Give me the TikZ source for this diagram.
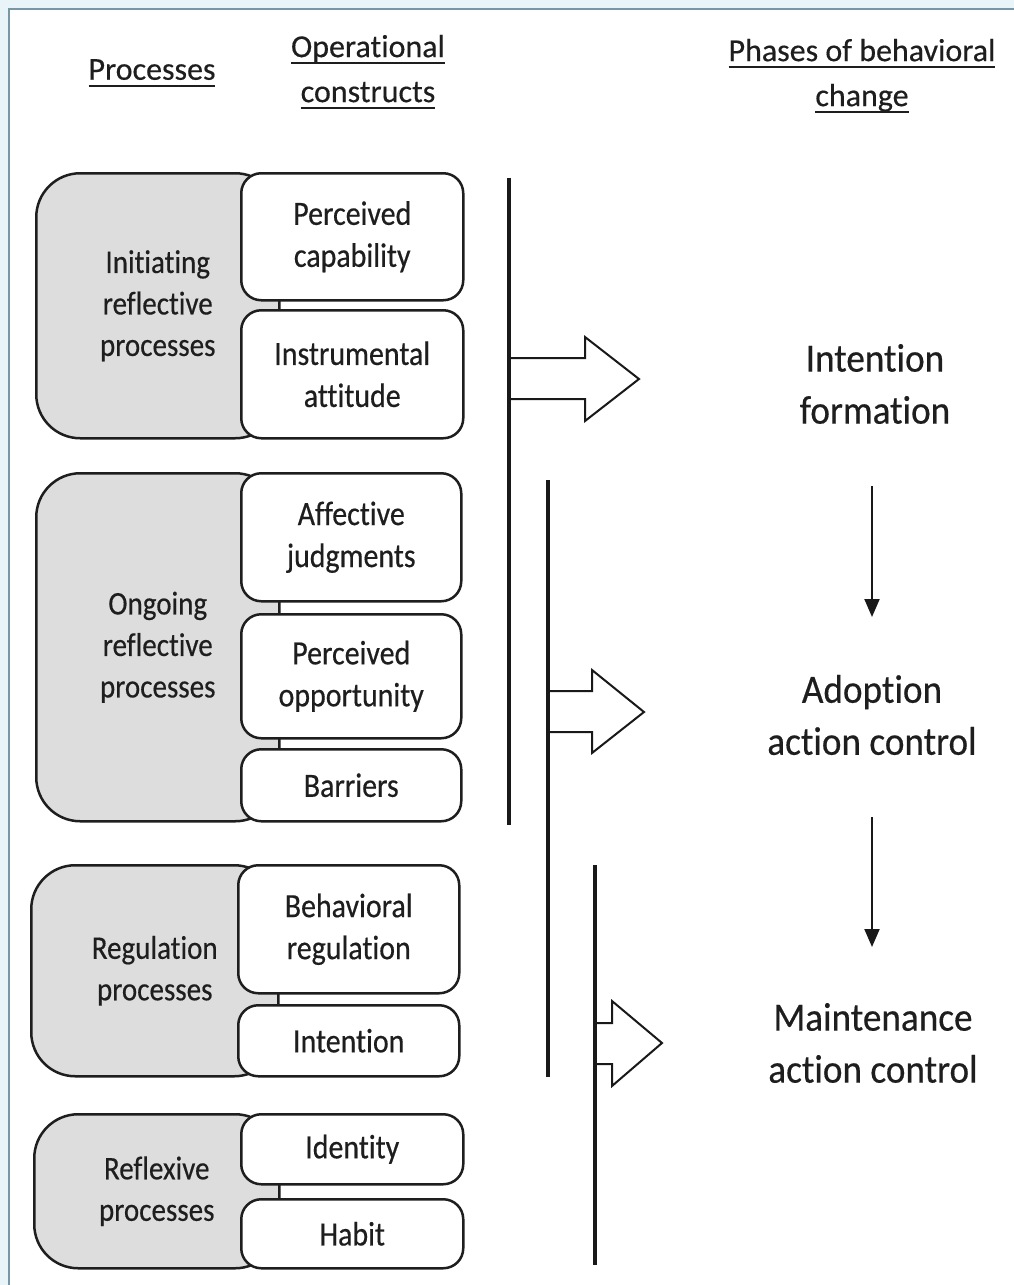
\documentclass[tikz,border=0pt]{standalone}
\usepackage{fontspec}
\setmainfont{Carlito}[Ligatures={NoCommon}]
\newfontfamily\cfontfam{Carlito}[FakeStretch=0.88,Ligatures={NoCommon},FakeBold=0.4]
\newfontfamily\pfontfam{Carlito}[FakeStretch=0.93,Ligatures={NoCommon},FakeBold=0.4]
\newfontfamily\hfontfam{Carlito}[Ligatures={NoCommon},FakeBold=0.4]
\usetikzlibrary{arrows.meta}
\definecolor{framecol}{RGB}{120,150,165}
\definecolor{outside}{RGB}{232,244,248}
\definecolor{greyfill}{RGB}{221,221,221}
\definecolor{boxdraw}{RGB}{30,30,30}
\definecolor{txt}{RGB}{30,30,30}
\newcommand\hdul[1]{\setbox0\hbox{#1}\rlap{\raisebox{-0.22em}{\rule{\wd0}{2.2pt}}}\box0}
\tikzset{
  grp/.style={draw=boxdraw, fill=greyfill, rounded corners=44pt, line width=2.5pt,
    anchor=north west, inner sep=0pt, align=center, text=txt,
    font=\cfontfam\fontsize{33}{41.5}\selectfont},
  cbox/.style={draw=boxdraw, fill=white, rounded corners=20pt, line width=2.5pt,
    anchor=north west, inner sep=0pt, align=center, text=txt,
    font=\cfontfam\fontsize{34}{42}\selectfont},
  hdr/.style={align=center, inner sep=0pt, text=txt, font=\hfontfam\fontsize{32}{45}\selectfont},
  phase/.style={align=center, inner sep=0pt, text=txt, font=\pfontfam\fontsize{40}{52}\selectfont},
  bar/.style={line width=3.5pt, draw=black!90},
  blockarrow/.style={draw=black!90, fill=white, line width=2pt, line join=miter},
  downarrow/.style={line width=2pt, draw=black!90, -{Triangle[length=18pt,width=15pt]}},
}
\begin{document}
\begin{tikzpicture}[x=1pt,y=-1pt]
\useasboundingbox (0,0) rectangle (1014,1285);
\fill[white] (0,0) rectangle (1014,1285);
\fill[outside] (0,0) rectangle (1014,9);
\fill[outside] (0,0) rectangle (9,1285);
\draw[framecol, line width=2pt] (9,1285) -- (9,9) -- (1014,9);

% headers
\node[hdr] (hp) at (152,73) {\hdul{Processes}};
\node[hdr] (ho) at (368,72) {\hdul{Operational}\\\hdul{constructs}};
\node[hdr] (hph) at (862,76) {\hdul{Phases of behavioral}\\\hdul{change}};

% group 1
\node[grp, minimum width=243pt, minimum height=265pt] (g1) at (35,172) {Initiating\\reflective\\processes};
\node[cbox, minimum width=222pt, minimum height=127pt] (c11) at (240,172) {Perceived\\capability};
\node[cbox, minimum width=222pt, minimum height=128pt] (c12) at (240,309) {Instrumental\\attitude};

% group 2
\node[grp, minimum width=243pt, minimum height=348pt] (g2) at (35,472) {Ongoing\\reflective\\processes};
\node[cbox, minimum width=220pt, minimum height=128pt] (c21) at (240,472) {Affective\\judgments};
\node[cbox, minimum width=220pt, minimum height=124pt] (c22) at (240,613) {Perceived\\opportunity};
\node[cbox, minimum width=220pt, minimum height=72pt] (c23) at (240,748) {Barriers};

% group 3
\node[grp, minimum width=247pt, minimum height=211pt] (g3) at (30,864) {Regulation\\processes};
\node[cbox, minimum width=221pt, minimum height=128pt] (c31) at (237,864) {Behavioral\\regulation};
\node[cbox, minimum width=221pt, minimum height=71pt] (c32) at (237,1004) {Intention};

% group 4
\node[grp, minimum width=245pt, minimum height=154pt] (g4) at (33,1113) {Reflexive\\processes};
\node[cbox, minimum width=222pt, minimum height=70pt] (c41) at (240,1113) {Identity};
\node[cbox, minimum width=222pt, minimum height=69pt] (c42) at (240,1198) {Habit};

% phases
\node[phase] (pif) at (875,384) {Intention\\formation};
\node[phase] (pad) at (872,715) {Adoption\\action control};
\node[phase] (pma) at (873,1043) {Maintenance\\action control};

% bars
\coordinate (b1t) at (509,178);
\coordinate (b1b) at (509,825);
\coordinate (b2t) at (548,480);
\coordinate (b2b) at (548,1077);
\coordinate (b3t) at (595,865);
\coordinate (b3b) at (595,1265);

% block arrows
\draw[blockarrow] (509,358) -- (585,358) -- (585,337) -- (639,379) -- (585,421) -- (585,399) -- (509,399);
\draw[blockarrow] (548,691) -- (592,691) -- (592,670) -- (644,712) -- (592,753) -- (592,732) -- (548,732);
\draw[blockarrow] (595,1023) -- (612,1023) -- (612,1001) -- (662,1043) -- (612,1086) -- (612,1064) -- (595,1064);

\draw[bar] (b1t) -- (b1b);
\draw[bar] (b2t) -- (b2b);
\draw[bar] (b3t) -- (b3b);

% down arrows
\coordinate (d1s) at (872,486);
\coordinate (d1e) at (872,617);
\coordinate (d2s) at (872,817);
\coordinate (d2e) at (872,947);
\draw[downarrow] (d1s) -- (d1e);
\draw[downarrow] (d2s) -- (d2e);
\end{tikzpicture}
\end{document}
